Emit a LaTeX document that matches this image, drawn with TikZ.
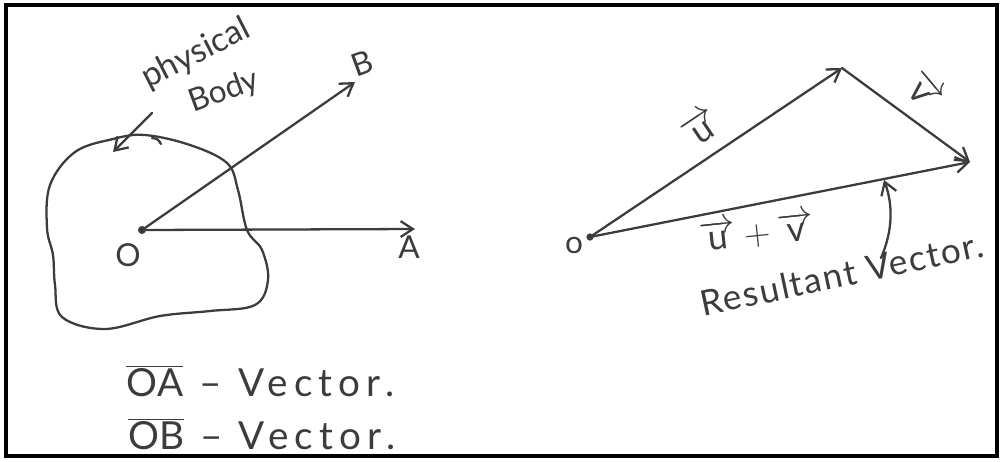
\documentclass[tikz,border=0pt]{standalone}
\usepackage{fontspec}
\setmainfont{Lato}
\usetikzlibrary{arrows.meta}
\definecolor{ink}{HTML}{3C3C3C}
\tikzset{
  ink/.style={draw=ink, line width=1.3pt, line cap=round, line join=round},
  vec/.style={ink, -{Straight Barb[length=7pt,width=9pt,line width=1.3pt]}},
  lbl/.style={text=ink, inner sep=0pt, font=\fontsize{18}{20}\selectfont},
  big/.style={text=ink, inner sep=0pt, anchor=west, font=\fontsize{22}{24}\selectfont\addfontfeature{LetterSpace=16}},
}
\begin{document}
\begin{tikzpicture}[x=0.02cm, y=-0.02cm]
\useasboundingbox (0,0) rectangle (1000,461);
\draw[line width=1.8pt, black] (6,5) rectangle (997,456);

% ---------- left figure ----------
\draw[ink] plot[smooth cycle, tension=0.6] coordinates {
  (113,139) (145,135) (190,145) (227,163) (238,190) (247,230) (262,250)
  (268,280) (255,305) (210,311) (160,316) (105,329) (62,317) (55,285)
  (53,255) (47,228) (50,185) (75,152)};
\draw[ink] (152,138) .. controls (158,139) .. (161,144);

\coordinate (O) at (142,230);
\coordinate (Atip) at (415,229);
\coordinate (Btip) at (355,82);
\fill[ink] (O) circle (1.6pt);
\draw[vec] (O) -- (Atip);
\draw[vec] (O) -- (Btip);
\node[lbl] (Olbl) at (128,255) {O};
\node[lbl] (Albl) at (409,247) {A};
\node[lbl, rotate=20] (Blbl) at (362,63) {B};

\node[lbl, rotate=27, font=\fontsize{19}{20}\selectfont] (phys) at (196,54) {physical};
\node[lbl, rotate=20] (body) at (224,92) {Body};
\coordinate (pbs) at (152,113);
\coordinate (pbe) at (113,152);
\draw[vec] (pbs) -- (pbe);

\node[big] (oa) at (126,381) {$\overline{\mathrm{OA}}$ – Vector.};
\node[big] (ob) at (128,434) {$\overline{\mathrm{OB}}$ – Vector.};

% ---------- right figure ----------
\coordinate (P) at (590,237);
\coordinate (U) at (842,68);
\coordinate (W) at (970,162);
\fill[ink] (P) circle (1.4pt);
\draw[vec] (P) -- (U);
\draw[vec] (U) -- (W);
\draw[vec] (P) -- (W);
\node[lbl] (Plbl) at (574,245) {o};

\node[lbl, rotate=34, font=\fontsize{20}{22}\selectfont] (ulbl) at (700,128) {$\overrightarrow{\mathrm{u}}$};
\node[lbl, rotate=-50, font=\fontsize{20}{22}\selectfont] (vlbl) at (924,90) {$\overrightarrow{\mathrm{v}}$};
\node[lbl, rotate=6, font=\fontsize{20}{22}\selectfont] (uv) at (757,232) {$\overrightarrow{\mathrm{u}}+\overrightarrow{\mathrm{v}}$};
\node[lbl, rotate=12, font=\fontsize{20}{22}\selectfont\addfontfeature{LetterSpace=5}] (res) at (842,274) {Resultant Vector.};

\coordinate (rs) at (881,258);
\coordinate (re) at (884,180);
\draw[vec] (rs) .. controls (893,230) and (893,205) .. (re);
\end{tikzpicture}
\end{document}
